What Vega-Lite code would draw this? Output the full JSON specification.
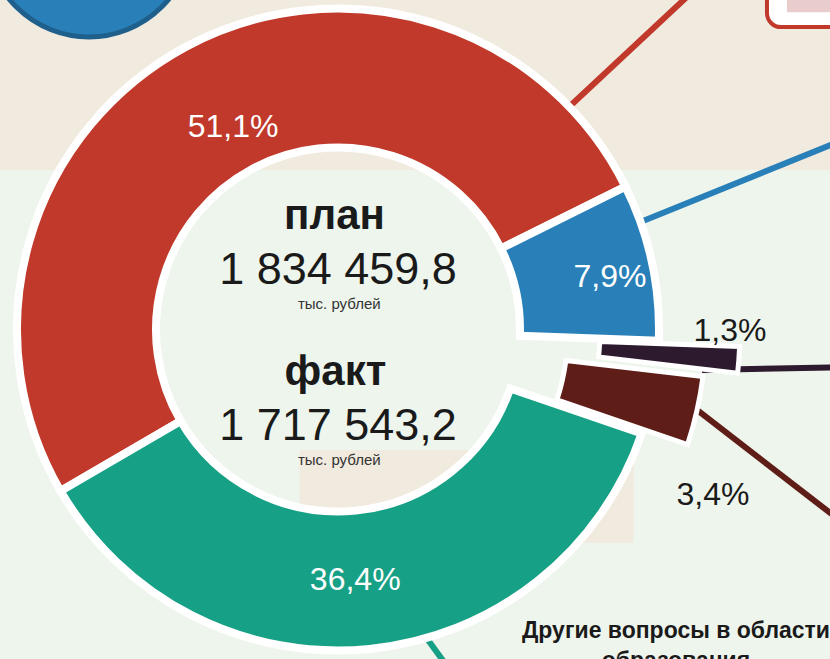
{
  "$schema": "https://vega.github.io/schema/vega-lite/v6.json",
  "width": 676,
  "height": 659,
  "autosize": {"type": "none"},
  "padding": {"left": 0, "top": 0, "right": 154, "bottom": 0},
  "background": "#eef5ec",
  "config": {
    "view": {"stroke": null},
    "font": "Liberation Sans, Arial, sans-serif",
    "locale": {"number": {"decimal": ",", "thousands": " ", "grouping": [3], "currency": ["", ""]}}
  },
  "datasets": {
    "shares": [
      {"name": "Общее образование", "share": 0.511, "order": 1},
      {"name": "Дополнительное образование детей", "share": 0.079, "order": 2},
      {"name": "Молодёжная политика", "share": 0.013, "order": 3},
      {"name": "Другие вопросы в области образования", "share": 0.034, "order": 4},
      {"name": "Дошкольное образование", "share": 0.364, "order": 5}
    ],
    "leaders": [
      {"name": "Общее образование", "u": 0.7264, "v": 0.6997, "pt": 0},
      {"name": "Общее образование", "u": 1.1541, "v": 1.0991, "pt": 1},
      {"name": "Дополнительное образование детей", "u": 0.9434, "v": 0.3349, "pt": 0},
      {"name": "Дополнительное образование детей", "u": 1.6415, "v": 0.6179, "pt": 1},
      {"name": "Молодёжная политика", "u": 1.1447, "v": -0.1274, "pt": 0},
      {"name": "Молодёжная политика", "u": 1.6415, "v": -0.1179, "pt": 1},
      {"name": "Другие вопросы в области образования", "u": 1.1289, "v": -0.2531, "pt": 0},
      {"name": "Другие вопросы в области образования", "u": 1.6415, "v": -0.6494, "pt": 1},
      {"name": "Дошкольное образование", "u": 0.2673, "v": -0.9544, "pt": 0},
      {"name": "Дошкольное образование", "u": 0.3742, "v": -1.1022, "pt": 1}
    ],
    "totals": [
      {"kind": "план", "amount": 1834459.8, "unit": "тыс. рублей"},
      {"kind": "факт", "amount": 1717543.2, "unit": "тыс. рублей"}
    ],
    "captions": [
      {"lines": ["Другие вопросы в области", "образования"]}
    ]
  },
  "layer": [
    {
      "data": {"values": [{}]},
      "mark": {"type": "rect", "fill": "#f1eadf"},
      "encoding": {
        "x": {"datum": -1.2, "type": "quantitative", "scale": {"domain": [-1.0629, 1.0629], "nice": false, "zero": false}, "axis": null},
        "x2": {"datum": 1.8},
        "y": {"datum": 0.5016, "type": "quantitative", "scale": {"domain": [-1.0362, 1.0362], "nice": false, "zero": false}, "axis": null},
        "y2": {"datum": 1.2}
      }
    },
    {
      "data": {"values": [{}]},
      "mark": {"type": "rect", "fill": "#f1eadf"},
      "encoding": {
        "x": {"datum": -0.12, "type": "quantitative", "scale": {"domain": [-1.0629, 1.0629], "nice": false, "zero": false}, "axis": null},
        "x2": {"datum": 0.93},
        "y": {"datum": -0.671, "type": "quantitative", "scale": {"domain": [-1.0362, 1.0362], "nice": false, "zero": false}, "axis": null},
        "y2": {"datum": -0.379}
      }
    },
    {
      "data": {"values": [{}]},
      "mark": {"type": "point", "shape": "circle", "filled": true, "size": 42436, "fill": "#2980b9", "stroke": "#1f5f8b", "strokeWidth": 5, "opacity": 1},
      "encoding": {
        "x": {"datum": -0.783, "type": "quantitative", "scale": {"domain": [-1.0629, 1.0629], "nice": false, "zero": false}, "axis": null},
        "y": {"datum": 1.2437, "type": "quantitative", "scale": {"domain": [-1.0362, 1.0362], "nice": false, "zero": false}, "axis": null}
      }
    },
    {
      "data": {"values": [{}]},
      "mark": {"type": "rect", "fill": "white", "stroke": "#c0392b", "strokeWidth": 4, "cornerRadius": 14},
      "encoding": {
        "x": {"datum": 1.349, "type": "quantitative", "scale": {"domain": [-1.0629, 1.0629], "nice": false, "zero": false}, "axis": null},
        "x2": {"datum": 1.8},
        "y": {"datum": 0.951, "type": "quantitative", "scale": {"domain": [-1.0362, 1.0362], "nice": false, "zero": false}, "axis": null},
        "y2": {"datum": 1.2}
      }
    },
    {
      "data": {"values": [{}]},
      "mark": {"type": "rect", "fill": "#e9cdcd"},
      "encoding": {
        "x": {"datum": 1.412, "type": "quantitative", "scale": {"domain": [-1.0629, 1.0629], "nice": false, "zero": false}, "axis": null},
        "x2": {"datum": 1.8},
        "y": {"datum": 0.998, "type": "quantitative", "scale": {"domain": [-1.0362, 1.0362], "nice": false, "zero": false}, "axis": null},
        "y2": {"datum": 1.2}
      }
    },
    {
      "data": {"name": "leaders"},
      "mark": {"type": "line", "strokeWidth": 6},
      "encoding": {
        "x": {"field": "u", "type": "quantitative", "scale": {"domain": [-1.0629, 1.0629], "nice": false, "zero": false}, "axis": null},
        "y": {"field": "v", "type": "quantitative", "scale": {"domain": [-1.0362, 1.0362], "nice": false, "zero": false}, "axis": null},
        "color": {"field": "name", "type": "nominal", "legend": null, "scale": {"domain": ["Общее образование", "Дополнительное образование детей", "Молодёжная политика", "Другие вопросы в области образования", "Дошкольное образование"], "range": ["#c0392b", "#2980b9", "#2e1a2f", "#5e1e17", "#16a085"]}},
        "order": {"field": "pt", "type": "quantitative"}
      }
    },
    {
      "data": {"name": "shares"},
      "mark": {"type": "arc", "innerRadius": 182, "outerRadius": 321, "stroke": "white", "strokeWidth": 8},
      "encoding": {
        "theta": {"field": "share", "type": "quantitative", "stack": true, "scale": {"domain": [0, 1.001], "range": [-2.0979, 4.1853], "nice": false, "zero": true}},
        "order": {"field": "order", "type": "quantitative"},
        "color": {"field": "name", "type": "nominal", "legend": null, "scale": {"domain": ["Общее образование", "Дополнительное образование детей", "Молодёжная политика", "Другие вопросы в области образования", "Дошкольное образование"], "range": ["#c0392b", "#2980b9", "#2e1a2f", "#5e1e17", "#16a085"]}},
        "opacity": {"condition": {"test": "datum.name === 'Молодёжная политика' || datum.name === 'Другие вопросы в области образования'", "value": 0}, "value": 1}
      }
    },
    {
      "data": {"name": "shares"},
      "mark": {"type": "arc", "innerRadius": 262, "outerRadius": 402, "stroke": "white", "strokeWidth": 5, "padAngle": 0.0125},
      "encoding": {
        "theta": {"field": "share", "type": "quantitative", "stack": true, "scale": {"domain": [0, 1.001], "range": [-2.0979, 4.1853], "nice": false, "zero": true}},
        "order": {"field": "order", "type": "quantitative"},
        "color": {"field": "name", "type": "nominal", "legend": null, "scale": {"domain": ["Общее образование", "Дополнительное образование детей", "Молодёжная политика", "Другие вопросы в области образования", "Дошкольное образование"], "range": ["#c0392b", "#2980b9", "#2e1a2f", "#5e1e17", "#16a085"]}},
        "opacity": {"condition": {"test": "datum.name === 'Молодёжная политика'", "value": 1}, "value": 0}
      }
    },
    {
      "data": {"name": "shares"},
      "mark": {"type": "arc", "innerRadius": 230, "outerRadius": 368, "stroke": "white", "strokeWidth": 5, "padAngle": 0.02},
      "encoding": {
        "theta": {"field": "share", "type": "quantitative", "stack": true, "scale": {"domain": [0, 1.001], "range": [-2.0979, 4.1853], "nice": false, "zero": true}},
        "order": {"field": "order", "type": "quantitative"},
        "color": {"field": "name", "type": "nominal", "legend": null, "scale": {"domain": ["Общее образование", "Дополнительное образование детей", "Молодёжная политика", "Другие вопросы в области образования", "Дошкольное образование"], "range": ["#c0392b", "#2980b9", "#2e1a2f", "#5e1e17", "#16a085"]}},
        "opacity": {"condition": {"test": "datum.name === 'Другие вопросы в области образования'", "value": 1}, "value": 0}
      }
    },
    {
      "data": {"name": "shares"},
      "mark": {"type": "text", "radius": 228, "thetaOffset": 0.016, "fontSize": 32, "fill": "white", "align": "center", "baseline": "middle"},
      "encoding": {
        "theta": {"field": "share", "type": "quantitative", "stack": true, "scale": {"domain": [0, 1.001], "range": [-2.0979, 4.1853], "nice": false, "zero": true}},
        "order": {"field": "order", "type": "quantitative"},
        "detail": {"field": "name", "type": "nominal"},
        "text": {"condition": {"test": "datum.name === 'Общее образование'", "field": "share", "type": "quantitative", "format": ".1%"}, "value": ""}
      }
    },
    {
      "data": {"name": "shares"},
      "mark": {"type": "text", "radius": 277, "thetaOffset": 0.023, "fontSize": 32, "fill": "white", "align": "center", "baseline": "middle"},
      "encoding": {
        "theta": {"field": "share", "type": "quantitative", "stack": true, "scale": {"domain": [0, 1.001], "range": [-2.0979, 4.1853], "nice": false, "zero": true}},
        "order": {"field": "order", "type": "quantitative"},
        "detail": {"field": "name", "type": "nominal"},
        "text": {"condition": {"test": "datum.name === 'Дополнительное образование детей'", "field": "share", "type": "quantitative", "format": ".1%"}, "value": ""}
      }
    },
    {
      "data": {"name": "shares"},
      "mark": {"type": "text", "radius": 251, "thetaOffset": 0.03, "fontSize": 32, "fill": "white", "align": "center", "baseline": "middle"},
      "encoding": {
        "theta": {"field": "share", "type": "quantitative", "stack": true, "scale": {"domain": [0, 1.001], "range": [-2.0979, 4.1853], "nice": false, "zero": true}},
        "order": {"field": "order", "type": "quantitative"},
        "detail": {"field": "name", "type": "nominal"},
        "text": {"condition": {"test": "datum.name === 'Дошкольное образование'", "field": "share", "type": "quantitative", "format": ".1%"}, "value": ""}
      }
    },
    {
      "data": {"name": "shares"},
      "mark": {"type": "text", "radius": 392, "thetaOffset": -0.072, "fontSize": 32, "fill": "#1a1a1a", "align": "center", "baseline": "middle"},
      "encoding": {
        "theta": {"field": "share", "type": "quantitative", "stack": true, "scale": {"domain": [0, 1.001], "range": [-2.0979, 4.1853], "nice": false, "zero": true}},
        "order": {"field": "order", "type": "quantitative"},
        "detail": {"field": "name", "type": "nominal"},
        "text": {"condition": {"test": "datum.name === 'Молодёжная политика'", "field": "share", "type": "quantitative", "format": ".1%"}, "value": ""}
      }
    },
    {
      "data": {"name": "shares"},
      "mark": {"type": "text", "radius": 410, "thetaOffset": 0.193, "fontSize": 32, "fill": "#1a1a1a", "align": "center", "baseline": "middle"},
      "encoding": {
        "theta": {"field": "share", "type": "quantitative", "stack": true, "scale": {"domain": [0, 1.001], "range": [-2.0979, 4.1853], "nice": false, "zero": true}},
        "order": {"field": "order", "type": "quantitative"},
        "detail": {"field": "name", "type": "nominal"},
        "text": {"condition": {"test": "datum.name === 'Другие вопросы в области образования'", "field": "share", "type": "quantitative", "format": ".1%"}, "value": ""}
      }
    },
    {
      "data": {"name": "totals"},
      "transform": [{"filter": "datum.kind === 'план'"}],
      "mark": {"type": "text", "fontSize": 42, "fontWeight": "bold", "fill": "#1a1a1a", "align": "center", "baseline": "alphabetic"},
      "encoding": {
        "x": {"datum": -0.011, "type": "quantitative", "scale": {"domain": [-1.0629, 1.0629], "nice": false, "zero": false}, "axis": null},
        "y": {"datum": 0.316, "type": "quantitative", "scale": {"domain": [-1.0362, 1.0362], "nice": false, "zero": false}, "axis": null},
        "text": {"field": "kind", "type": "nominal"}
      }
    },
    {
      "data": {"name": "totals"},
      "transform": [{"filter": "datum.kind === 'план'"}],
      "mark": {"type": "text", "fontSize": 45, "fill": "#1a1a1a", "align": "center", "baseline": "alphabetic"},
      "encoding": {
        "x": {"datum": 0, "type": "quantitative", "scale": {"domain": [-1.0629, 1.0629], "nice": false, "zero": false}, "axis": null},
        "y": {"datum": 0.1431, "type": "quantitative", "scale": {"domain": [-1.0362, 1.0362], "nice": false, "zero": false}, "axis": null},
        "text": {"field": "amount", "type": "quantitative", "format": ",.1f"}
      }
    },
    {
      "data": {"name": "totals"},
      "transform": [{"filter": "datum.kind === 'план'"}],
      "mark": {"type": "text", "fontSize": 15, "fill": "#333333", "align": "center", "baseline": "alphabetic"},
      "encoding": {
        "x": {"datum": 0.004, "type": "quantitative", "scale": {"domain": [-1.0629, 1.0629], "nice": false, "zero": false}, "axis": null},
        "y": {"datum": 0.0645, "type": "quantitative", "scale": {"domain": [-1.0362, 1.0362], "nice": false, "zero": false}, "axis": null},
        "text": {"field": "unit", "type": "nominal"}
      }
    },
    {
      "data": {"name": "totals"},
      "transform": [{"filter": "datum.kind === 'факт'"}],
      "mark": {"type": "text", "fontSize": 42, "fontWeight": "bold", "fill": "#1a1a1a", "align": "center", "baseline": "alphabetic"},
      "encoding": {
        "x": {"datum": -0.008, "type": "quantitative", "scale": {"domain": [-1.0629, 1.0629], "nice": false, "zero": false}, "axis": null},
        "y": {"datum": -0.1745, "type": "quantitative", "scale": {"domain": [-1.0362, 1.0362], "nice": false, "zero": false}, "axis": null},
        "text": {"field": "kind", "type": "nominal"}
      }
    },
    {
      "data": {"name": "totals"},
      "transform": [{"filter": "datum.kind === 'факт'"}],
      "mark": {"type": "text", "fontSize": 45, "fill": "#1a1a1a", "align": "center", "baseline": "alphabetic"},
      "encoding": {
        "x": {"datum": 0, "type": "quantitative", "scale": {"domain": [-1.0629, 1.0629], "nice": false, "zero": false}, "axis": null},
        "y": {"datum": -0.3475, "type": "quantitative", "scale": {"domain": [-1.0362, 1.0362], "nice": false, "zero": false}, "axis": null},
        "text": {"field": "amount", "type": "quantitative", "format": ",.1f"}
      }
    },
    {
      "data": {"name": "totals"},
      "transform": [{"filter": "datum.kind === 'факт'"}],
      "mark": {"type": "text", "fontSize": 15, "fill": "#333333", "align": "center", "baseline": "alphabetic"},
      "encoding": {
        "x": {"datum": 0.004, "type": "quantitative", "scale": {"domain": [-1.0629, 1.0629], "nice": false, "zero": false}, "axis": null},
        "y": {"datum": -0.4261, "type": "quantitative", "scale": {"domain": [-1.0362, 1.0362], "nice": false, "zero": false}, "axis": null},
        "text": {"field": "unit", "type": "nominal"}
      }
    },
    {
      "data": {"name": "captions"},
      "mark": {"type": "text", "fontSize": 23, "fontWeight": "bold", "fill": "#1a1a1a", "align": "center", "baseline": "alphabetic", "lineHeight": 30},
      "encoding": {
        "x": {"datum": 1.0629, "type": "quantitative", "scale": {"domain": [-1.0629, 1.0629], "nice": false, "zero": false}, "axis": null},
        "y": {"datum": -0.97, "type": "quantitative", "scale": {"domain": [-1.0362, 1.0362], "nice": false, "zero": false}, "axis": null},
        "text": {"field": "lines", "type": "nominal"}
      }
    }
  ]
}
